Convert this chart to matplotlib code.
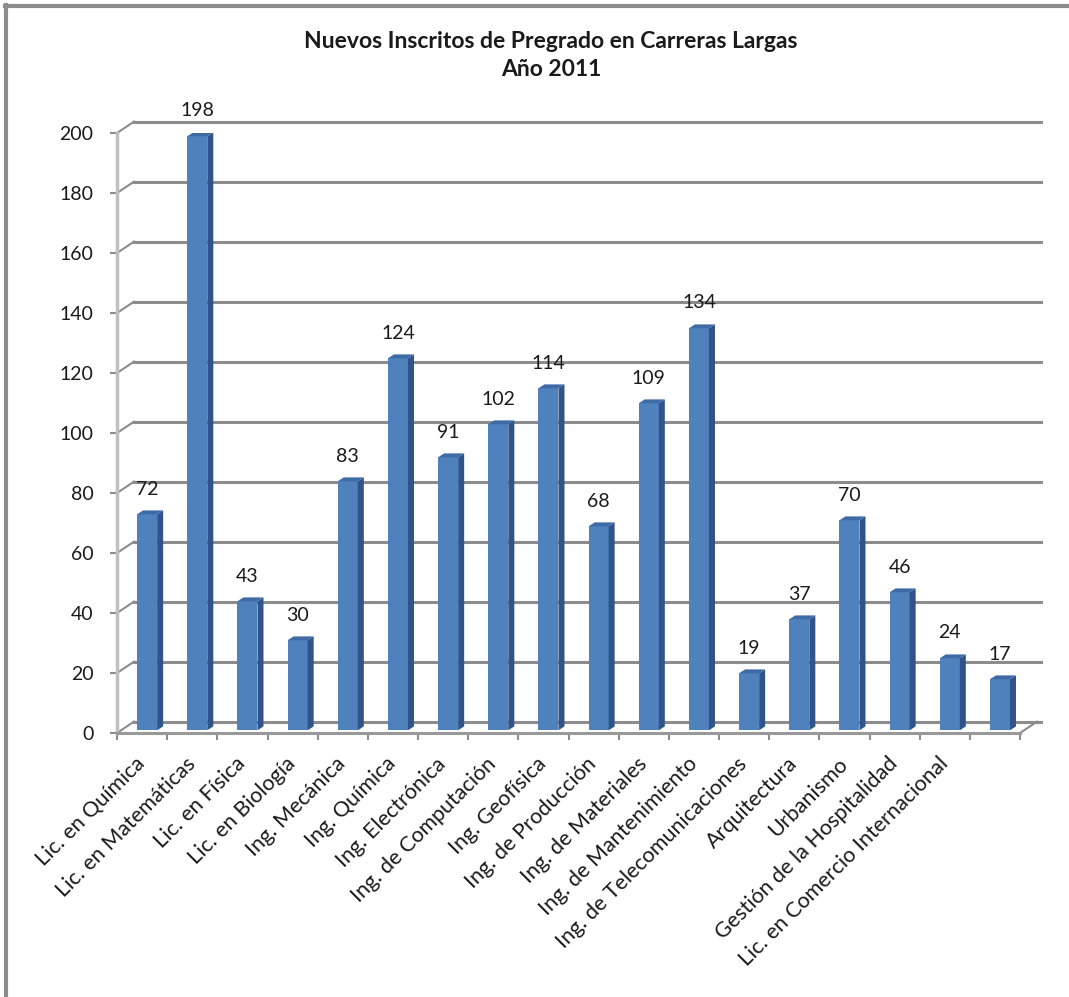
import numpy as np
import matplotlib
matplotlib.use('Agg')
from matplotlib import pyplot as plt
from matplotlib.patches import Polygon, Rectangle
from matplotlib.lines import Line2D

carreras = ['Lic. en Química', 'Lic. en Matemáticas', 'Lic. en Física', 'Lic. en Biología',
            'Ing. Mecánica', 'Ing. Química', 'Ing. Electrónica', 'Ing. de Computación',
            'Ing. Geofísica', 'Ing. de Producción', 'Ing. de Materiales', 'Ing. de Mantenimiento',
            'Ing. de Telecomunicaciones', 'Arquitectura', 'Urbanismo', 'Gestión de la Hospitalidad',
            'Lic. en Comercio Internacional', '']
inscritos = [72, 198, 43, 30, 83, 124, 91, 102, 114, 68, 109, 134, 19, 37, 70, 46, 24, 17]
marcas_y = np.arange(0, 201, 20)

plt.rcParams['font.family'] = ['Lato', 'DejaVu Sans']

fig = plt.figure(figsize=(10.69, 9.97), dpi=100)
ax = fig.add_axes([117/1069, 264/997, 903/1069, 600/997])
n = len(inscritos)
ax.set_xlim(0, n)
ax.set_ylim(0, 200)

gris = '#8c8c8c'
# plano de fondo (efecto 3D de Excel)
prof_x, prof_y = 0.34, 3.8
for t in marcas_y:
    ax.plot([prof_x, n + 0.42], [t + prof_y] * 2, color=gris, lw=2.2, clip_on=False, zorder=1)
    ax.plot([0, prof_x], [t, t + prof_y], color=gris, lw=1.5, clip_on=False, zorder=1)
ax.plot([n, n + prof_x], [0, prof_y], color=gris, lw=1.5, clip_on=False, zorder=1)

# barras con cara frontal, lateral y superior
base = 0.9
fx, fw, lx, ly = 0.40, 0.40, 0.12, 1.3
for i, v in enumerate(inscritos):
    x0 = i + fx
    x1 = x0 + fw
    ax.add_patch(Rectangle((x0, base), fw, v, facecolor='#4f81bd', edgecolor='none', zorder=3))
    ax.add_patch(Polygon([(x1, base), (x1 + lx, base + ly), (x1 + lx, base + v + ly), (x1, base + v)],
                         closed=True, facecolor='#30548a', edgecolor='none', zorder=3))
    ax.add_patch(Polygon([(x0, base + v), (x1, base + v), (x1 + lx, base + v + ly), (x0 + lx, base + v + ly)],
                         closed=True, facecolor='#3e6aa6', edgecolor='none', zorder=3))
    ax.text(x0 + fw / 2, base + v + ly + 4.3, str(v), ha='center', va='bottom',
            fontsize=14, color='#1a1a1a', zorder=4)

for lado in ['top', 'right']:
    ax.spines[lado].set_visible(False)
ax.spines['left'].set_color('#bfbfbf')
ax.spines['left'].set_linewidth(2.5)
ax.spines['bottom'].set_color('#999999')
ax.spines['bottom'].set_linewidth(2.2)

ax.set_yticks(marcas_y)
ax.tick_params(axis='y', length=5, width=1.5, color=gris, pad=12, labelsize=14, labelcolor='#1a1a1a')
ax.set_xticks(np.arange(0, n + 1))
ax.set_xticklabels([])
ax.set_xticks(np.arange(n) + 0.5, minor=True)
ax.set_xticklabels(carreras, minor=True)
ax.tick_params(axis='x', which='major', length=5, width=1.5, color=gris)
ax.tick_params(axis='x', which='minor', length=0, pad=20, labelsize=15.5, labelcolor='#1a1a1a')
for lab in ax.get_xticklabels(minor=True):
    lab.set_rotation(45)
    lab.set_ha('right')
    lab.set_va('center')
    lab.set_rotation_mode('anchor')

fig.text(551/1069, 1 - 42/997, 'Nuevos Inscritos de Pregrado en Carreras Largas', ha='center', va='center',
         fontsize=16.5, fontweight='bold', color='#1a1a1a')
fig.text(551/1069, 1 - 70/997, 'Año 2011', ha='center', va='center', fontsize=16.5, fontweight='bold',
         color='#1a1a1a')

# marco exterior del gráfico
fig.add_artist(Line2D([5/1069, 1], [1 - 6/997] * 2, color=gris, lw=3, transform=fig.transFigure))
fig.add_artist(Line2D([6/1069] * 2, [0, 1 - 5/997], color=gris, lw=3, transform=fig.transFigure))

plt.savefig('out.png', dpi=100)
